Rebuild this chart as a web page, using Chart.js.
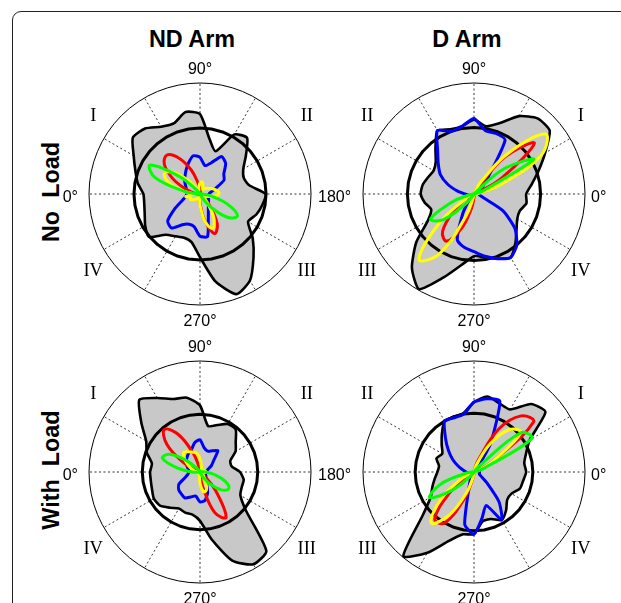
<!DOCTYPE html>
<html>
<head>
<meta charset="utf-8">
<script src="https://cdn.jsdelivr.net/npm/chart.js@4.4.1/dist/chart.umd.min.js"></script>
<style>
  html, body { margin: 0; background: #fff; overflow: hidden; }
  #page { position: relative; width: 621px; height: 603px; overflow: hidden; font-family: "Liberation Sans", Arial, sans-serif; }
  .frame { position: absolute; left: 12px; top: 11px; width: 900px; height: 900px; border: 1.5px solid #222; border-radius: 9px; }
  .panel { position: absolute; width: 300px; height: 300px; }
  .title { position: absolute; font-weight: bold; font-size: 23.4px; transform: translate(-50%, -50%); white-space: pre; }
  .rowlabel { position: absolute; font-weight: bold; font-size: 23.4px; transform: translate(-50%, -50%) rotate(-90deg); white-space: pre; }
</style>
</head>
<body>
<div id="page">
  <div class="frame"></div>
  <div class="title" style="left:192px; top:39px">ND Arm</div>
  <div class="title" style="left:467px; top:39px">D Arm</div>
  <div class="rowlabel" style="left:51px; top:192px">No  Load</div>
  <div class="rowlabel" style="left:51px; top:470px">With  Load</div>
  <div class="panel" style="left:50px; top:44px"><canvas id="ndNoLoad"></canvas></div>
  <div class="panel" style="left:324px; top:44px"><canvas id="dNoLoad"></canvas></div>
  <div class="panel" style="left:50px; top:322px"><canvas id="ndWithLoad"></canvas></div>
  <div class="panel" style="left:324px; top:322px"><canvas id="dWithLoad"></canvas></div>
</div>
<script>
// angle of each sample, degrees
const angleDeg = [0,10,20,30,40,50,60,70,80,90,100,110,120,130,140,150,160,170,
                  180,190,200,210,220,230,240,250,260,270,280,290,300,310,320,330,340,350];

// ND arm, no load
const ndNoLoadGray   = [.51,.57,.62,.69,.79,.77,.70,.68,.75,.72,.50,.41,.62,.66,.54,.45,.42,.45,.59,.57,.54,.50,.62,.75,.90,.96,.80,.57,.44,.42,.44,.48,.60,.57,.53,.51];
const ndNoLoadBlue   = [.12,.12,.13,.15,.18,.21,.25,.30,.35,.33,.26,.30,.39,.36,.28,.25,.15,.10,.08,.08,.08,.09,.10,.12,.15,.22,.39,.38,.30,.29,.32,.40,.38,.26,.17,.13];
const ndNoLoadRed    = [.02,.06,.15,.29,.42,.46,.37,.23,.10,.04,.01,0,0,0,0,0,0,0,0,0,0,.01,.03,.13,.31,.38,.24,.08,.01,0,0,0,0,0,0,0];
const ndNoLoadYellow = [.06,.15,.30,.37,.30,.15,.05,.03,.06,.10,.11,.08,.05,.06,.08,.10,.13,.16,.17,.12,.06,.03,.03,.10,.25,.33,.25,.10,.03,.04,.05,.06,.08,.10,.09,.13];
const ndNoLoadGreen  = [.02,.15,.43,.52,.25,.05,.01,0,0,0,0,0,0,0,0,0,0,0,.02,.10,.26,.39,.33,.16,.04,.01,0,0,0,0,0,0,0,0,0,0];

// D arm, no load
const dNoLoadGray   = [.47,.53,.62,.74,.89,.89,.81,.68,.62,.67,.62,.62,.66,.54,.45,.42,.44,.47,.48,.45,.41,.48,.68,.87,.99,.80,.65,.56,.58,.62,.66,.58,.50,.45,.44,.48];
const dNoLoadBlue   = [.05,.05,.06,.07,.10,.20,.56,.58,.58,.68,.62,.60,.66,.51,.42,.35,.25,.15,.08,.05,.05,.05,.05,.07,.20,.44,.49,.52,.57,.62,.66,.60,.48,.30,.08,.05];
const dNoLoadRed    = [0,0,.03,.29,.71,.44,.07,.01,0,0,0,0,0,0,0,0,0,0,0,0,.02,.08,.24,.44,.49,.33,.13,.03,.01,0,0,0,0,0,0,0];
const dNoLoadYellow = [.01,.05,.27,.70,.84,.48,.13,.02,0,0,0,0,0,0,0,0,0,0,0,0,.01,.09,.41,.77,.62,.21,.03,0,0,0,0,0,0,0,0,0];
const dNoLoadGreen  = [0,.01,.09,.62,.35,.02,0,0,0,0,0,0,0,0,0,0,0,0,0,.04,.21,.45,.36,.11,.01,0,0,0,0,0,0,0,0,0,0,0];

// ND arm, with load
const ndWithLoadGray   = [.45,.44,.51,.56,.69,.85,.77,.70,.68,.60,.42,.45,.50,.50,.42,.37,.29,.29,.36,.40,.40,.42,.54,.93,.96,.85,.62,.44,.39,.39,.38,.42,.47,.48,.46,.45];
const ndWithLoadBlue   = [.10,.10,.12,.14,.16,.18,.20,.22,.27,.29,.22,.20,.22,.25,.16,.12,.08,.06,.05,.05,.05,.06,.07,.09,.12,.20,.26,.27,.22,.24,.27,.26,.25,.22,.14,.11];
const ndWithLoadRed    = [0,.01,.05,.18,.39,.50,.39,.18,.05,.01,0,0,0,0,0,0,0,0,0,0,0,0,.04,.22,.47,.39,.13,.02,0,0,0,0,0,0,0,0];
const ndWithLoadYellow = [.03,.05,.08,.12,.18,.23,.21,.19,.17,.12,.06,.04,.03,.03,.03,.03,.04,.05,.05,.04,.03,.03,.03,.05,.10,.17,.18,.10,.03,.02,.02,.02,.02,.02,.02,.03];
const ndWithLoadGreen  = [.07,.21,.36,.32,.16,.04,.01,0,0,0,0,0,0,0,0,0,0,.01,.05,.13,.24,.30,.25,.14,.05,.01,0,0,0,0,0,0,0,0,0,.01];

// D arm, with load
const dWithLoadGray   = [.47,.46,.50,.58,.84,.80,.65,.66,.69,.63,.54,.53,.53,.45,.38,.33,.36,.32,.33,.36,.40,.45,.60,.99,.84,.66,.57,.56,.45,.45,.50,.45,.39,.39,.44,.45];
const dWithLoadBlue   = [.05,.05,.05,.05,.05,.06,.30,.68,.67,.63,.53,.52,.53,.40,.30,.22,.15,.10,.07,.05,.05,.05,.05,.05,.06,.12,.48,.56,.42,.32,.50,.35,.15,.07,.05,.05];
const dWithLoadRed    = [0,0,.03,.20,.70,.66,.45,.12,.02,0,0,0,0,0,0,0,0,0,0,0,.01,.07,.28,.55,.53,.26,.06,.01,0,0,0,0,0,0,0,0];
const dWithLoadYellow = [0,.01,.05,.20,.55,.50,.30,.08,.01,0,0,0,0,0,0,0,0,0,0,0,.03,.15,.40,.60,.45,.20,.05,.01,0,0,0,0,0,0,0,0];
const dWithLoadGreen  = [0,0,.09,.60,.55,.07,0,0,0,0,0,0,0,0,0,0,0,0,.02,.09,.32,.46,.25,.05,.01,0,0,0,0,0,0,0,0,0,0,0];

// radius of the thick reference circle in each panel
const refLevel = { ndNoLoad: 0.595, dNoLoad: 0.60, ndWithLoad: 0.52, dWithLoad: 0.53 };

const degFont = '16px "Liberation Sans", Arial, sans-serif';
const romanFont = '18.5px "Liberation Serif", "Times New Roman", serif';

const ndText = [
  { t: '90°', deg: 90, dist: 124 },
  { t: '270°', deg: 270, dist: 128 },
  { t: '0°', deg: 0, dist: 122, align: 'right', dy: 4 },
  { t: '180°', deg: 180, dist: 118, align: 'left', dy: 4 },
  { t: 'I', deg: 36, dist: 132, roman: true },
  { t: 'II', deg: 144, dist: 132, roman: true },
  { t: 'III', deg: 216, dist: 132, roman: true },
  { t: 'IV', deg: 324, dist: 132, roman: true }
];
const dText = [
  { t: '90°', deg: 90, dist: 124 },
  { t: '270°', deg: 270, dist: 128 },
  { t: '0°', deg: 0, dist: 117, align: 'left', dy: 4 },
  { t: 'I', deg: 36, dist: 132, roman: true },
  { t: 'II', deg: 144, dist: 132, roman: true },
  { t: 'III', deg: 216, dist: 132, roman: true },
  { t: 'IV', deg: 324, dist: 132, roman: true }
];

function makePanel(id, mirrored, gray, blue, red, yellow, green, texts) {
  const n = angleDeg.length;
  // D arm panels run counter-clockwise from the right, ND arm panels clockwise from the left
  const order = angleDeg.map((_, k) => mirrored ? (n - k) % n : k);
  const pick = arr => order.map(i => arr[i]);
  const toIndex = deg => mirrored ? ((360 - deg) % 360) / 10 : deg / 10;
  const ring = angleDeg.map(() => refLevel[id]);

  const line = (label, values, color, ord) => ({
    label: label,
    data: pick(values),
    borderColor: color,
    borderWidth: 3,
    fill: false,
    tension: 0.4,
    order: ord,
    pointRadius: 0,
    pointHoverRadius: 0,
    borderJoinStyle: 'round'
  });

  const labelPlugin = {
    id: 'angleText',
    afterDraw(chart) {
      const r = chart.scales.r;
      const ctx = chart.ctx;
      ctx.save();
      ctx.fillStyle = '#000';
      ctx.textBaseline = 'middle';
      texts.forEach(item => {
        const p = r.getPointPosition(toIndex(item.deg), item.dist);
        ctx.font = item.roman ? romanFont : degFont;
        ctx.textAlign = item.align || 'center';
        ctx.fillText(item.t, p.x, p.y + (item.dy || 0));
      });
      ctx.restore();
    }
  };

  new Chart(document.getElementById(id), {
    type: 'radar',
    data: {
      labels: pick(angleDeg).map(String),
      datasets: [
        {
          label: 'all',
          data: pick(gray),
          borderColor: '#000',
          backgroundColor: '#c8c8c8',
          borderWidth: 2.6,
          fill: true,
          tension: 0.2,
          order: 5,
          pointRadius: 0,
          pointHoverRadius: 0,
          borderJoinStyle: 'round'
        },
        Object.assign(line('mean', ring, '#000', 4), { tension: 0 }),
        Object.assign(line('blue', blue, '#0000ff', 3), { tension: 0.2 }),
        line('red', red, '#ff0000', 2),
        line('yellow', yellow, '#ffff00', 1),
        line('green', green, '#00ff00', 0)
      ]
    },
    options: {
      responsive: true,
      maintainAspectRatio: false,
      animation: false,
      layout: { padding: 39 },
      plugins: { legend: { display: false }, tooltip: { enabled: false } },
      scales: {
        r: {
          min: 0,
          max: 1,
          startAngle: mirrored ? 90 : 270,
          ticks: { display: false, stepSize: 1 },
          pointLabels: { display: false },
          grid: { circular: true, color: '#000', lineWidth: 1 },
          angleLines: {
            display: true,
            color: '#000',
            lineWidth: c => (c.index % 3 === 0 ? 0.8 : 0),
            borderDash: [2, 2.5]
          }
        }
      }
    },
    plugins: [labelPlugin]
  });
}

makePanel('ndNoLoad', false, ndNoLoadGray, ndNoLoadBlue, ndNoLoadRed, ndNoLoadYellow, ndNoLoadGreen, ndText);
makePanel('dNoLoad', true, dNoLoadGray, dNoLoadBlue, dNoLoadRed, dNoLoadYellow, dNoLoadGreen, dText);
makePanel('ndWithLoad', false, ndWithLoadGray, ndWithLoadBlue, ndWithLoadRed, ndWithLoadYellow, ndWithLoadGreen, ndText);
makePanel('dWithLoad', true, dWithLoadGray, dWithLoadBlue, dWithLoadRed, dWithLoadYellow, dWithLoadGreen, dText);
</script>
</body>
</html>
